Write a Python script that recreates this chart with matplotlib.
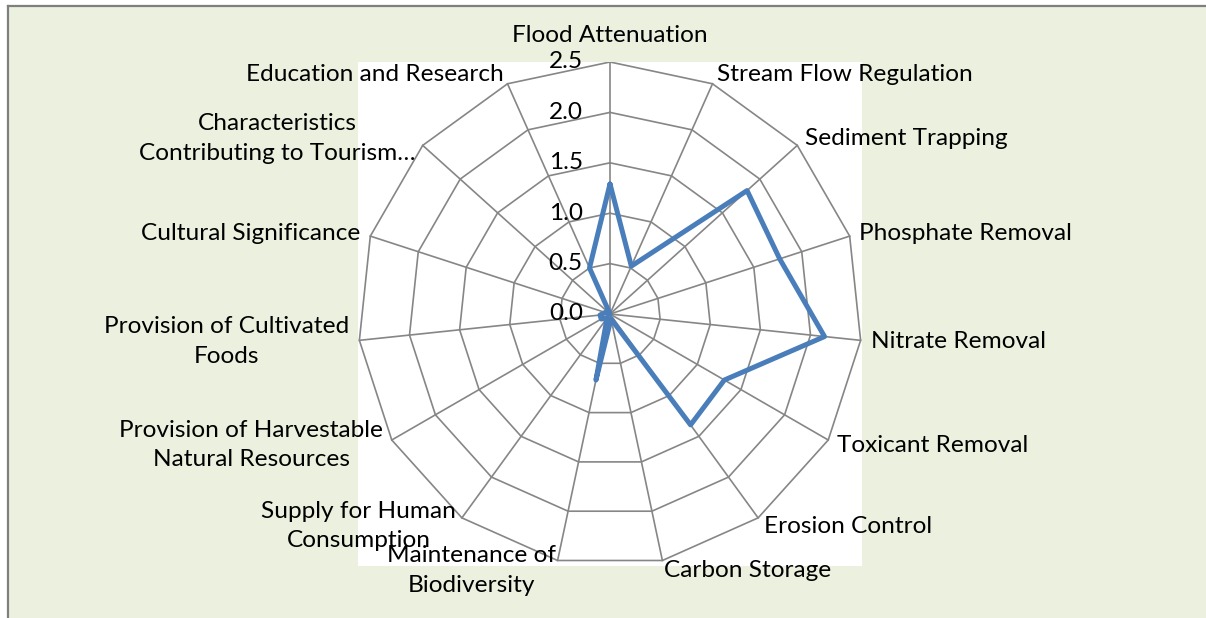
import numpy as np
import matplotlib
matplotlib.use("Agg")
import matplotlib.pyplot as plt
from matplotlib.lines import Line2D

categories = [
    "Flood Attenuation",
    "Stream Flow Regulation",
    "Sediment Trapping",
    "Phosphate Removal",
    "Nitrate Removal",
    "Toxicant Removal",
    "Erosion Control",
    "Carbon Storage",
    "Maintenance of\nBiodiversity",
    "Supply for Human\nConsumption",
    "Provision of Harvestable\nNatural Resources",
    "Provision of Cultivated\nFoods",
    "Cultural Significance",
    "Characteristics\nContributing to Tourism…",
    "Education and Research",
]
values = [1.29, 0.52, 1.83, 1.77, 2.14, 1.31, 1.36, 0.05, 0.67,
          0.05, 0.10, 0.10, 0.05, 0.0, 0.5]
ticks = [0.0, 0.5, 1.0, 1.5, 2.0, 2.5]
tick_labels = ["0.0", "0.5", "1.0", "1.5", "2.0", "2.5"]

plt.rcParams["font.family"] = ["Lato", "DejaVu Sans"]
bg = "#EBF1DE"
grid_color = "#868686"
line_color = "#4A7EBB"
fs = 17.6

fig = plt.figure(figsize=(12.06, 6.18), dpi=100, facecolor="white")

# chart area background with border on left and top
bx = 8 / 1206
by = 1 - 6 / 618
fig.add_artist(plt.Rectangle((bx, 0), 1 - bx, by, transform=fig.transFigure,
                             facecolor=bg, edgecolor="none", zorder=0))
fig.add_artist(Line2D([bx, bx], [0, by], transform=fig.transFigure,
                      color="#7F7F7F", lw=1.6))
fig.add_artist(Line2D([bx, 1], [by, by], transform=fig.transFigure,
                      color="#7F7F7F", lw=1.6))

ax = fig.add_axes([358 / 1206, 52 / 618, 504 / 1206, 504 / 618])
ax.set_facecolor("white")
rmax = ticks[-1]
ax.set_xlim(-rmax, rmax)
ax.set_ylim(-rmax, rmax)
ax.set_axis_off()
ax.add_patch(plt.Rectangle((-rmax, -rmax), 2 * rmax, 2 * rmax,
                           facecolor="white", edgecolor="none", zorder=0))

n = len(categories)
angles = np.arange(n) * 2 * np.pi / n
sx = np.sin(angles)
cy = np.cos(angles)

# polygon grid rings
for r in ticks[1:]:
    ax.plot(np.append(sx, sx[0]) * r, np.append(cy, cy[0]) * r,
            color=grid_color, lw=1.2, zorder=1)
# spokes
for a, b in zip(sx, cy):
    ax.plot([0, a * rmax], [0, b * rmax], color=grid_color, lw=1.2, zorder=1)

# data series
v = np.array(values)
ax.plot(np.append(sx * v, sx[0] * v[0]), np.append(cy * v, cy[0] * v[0]),
        color=line_color, lw=3.6, solid_joinstyle="round",
        solid_capstyle="round", zorder=3)

# value labels
for t, lab in zip(ticks, tick_labels):
    ax.text(-0.27, t, lab, ha="right", va="center", fontsize=fs,
            color="black", zorder=4, clip_on=False)

# category labels
off = 0.1
for lab, a, b in zip(categories, sx, cy):
    x = a * (rmax + off)
    y = b * (rmax + off)
    if a > 0.01:
        ha = "left"
    elif a < -0.01:
        ha = "right"
    else:
        ha = "center"
    va = "center"
    if b > 0.99:
        va = "bottom"
        y = rmax + 0.16
    ax.text(x, y, lab, ha=ha, va=va, fontsize=fs, multialignment="center",
            linespacing=1.5, clip_on=False, zorder=4)

fig.savefig("out.png", dpi=100, facecolor="white")
